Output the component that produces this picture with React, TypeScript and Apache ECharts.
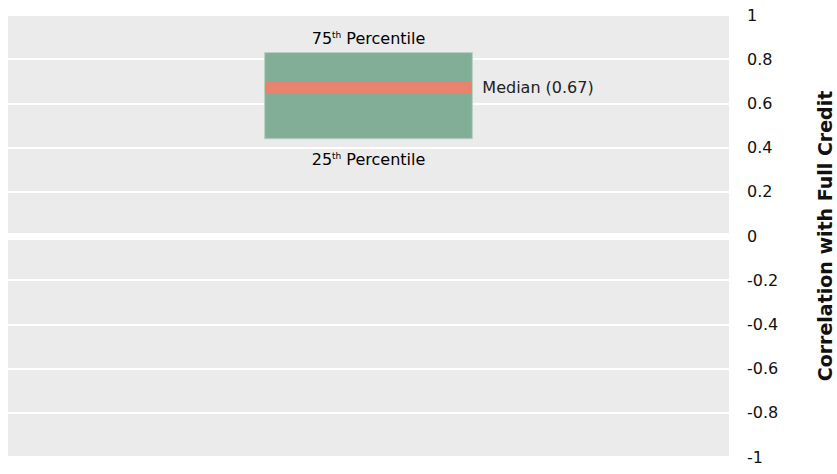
import React, { useEffect, useRef } from "react";
import * as echarts from "echarts";

const categories = ["Full Credit"];
const q1Values = [0.44];
const medianValues = [0.67];
const q3Values = [0.83];
const yTicks = { min: -1, max: 1, interval: 0.2 };
const axisTitle = "Correlation with Full Credit";
const medianLabel = "Median (0.67)";

const FONT = "DejaVu Sans";

export default function App() {
  const ref = useRef<HTMLDivElement>(null);
  useEffect(() => {
    if (!ref.current) return;
    const chart = echarts.init(ref.current, undefined, { renderer: "svg" });
    const data = categories.map((c, i) => [i, q1Values[i], medianValues[i], q3Values[i]]);
    const rich = {
      n: { fontSize: 16, fontFamily: FONT, color: "#222" },
      s: { fontSize: 9, fontFamily: FONT, color: "#222", verticalAlign: "top" },
    };
    chart.setOption({
      animation: false,
      backgroundColor: "#ffffff",
      grid: {
        left: 8,
        right: 108,
        top: 15,
        bottom: 17,
        show: true,
        backgroundColor: "#ebebeb",
        borderWidth: 0,
        containLabel: false,
        outerBoundsMode: "none",
      },
      xAxis: {
        type: "category",
        data: categories,
        show: false,
        boundaryGap: true,
      },
      yAxis: {
        type: "value",
        position: "right",
        min: yTicks.min,
        max: yTicks.max,
        interval: yTicks.interval,
        axisLine: { show: false },
        axisTick: { show: false },
        axisLabel: {
          color: "#111",
          fontSize: 16,
          fontFamily: FONT,
          margin: 18,
          align: "left",
          padding: [3, 0, 0, 0],
          formatter: (v: number) => String(Math.round(v * 10) / 10),
        },
        splitLine: { show: true, lineStyle: { color: "#ffffff", width: 2 } },
        name: axisTitle,
        nameLocation: "middle",
        nameRotate: 90,
        nameGap: 86,
        nameTextStyle: {
          color: "#111",
          fontSize: 19,
          fontWeight: "bold",
          fontFamily: FONT,
        },
      },
      series: [
        {
          type: "custom",
          data,
          encode: { x: 0, y: [1, 2, 3] },
          markLine: {
            silent: true,
            symbol: "none",
            label: { show: false },
            lineStyle: { color: "#ffffff", width: 7, type: "solid" },
            data: [{ yAxis: 0 }],
          },
          renderItem: (params: any, api: any) => {
            const x = api.value(0);
            const low = api.coord([x, api.value(1)]);
            const med = api.coord([x, api.value(2)]);
            const high = api.coord([x, api.value(3)]);
            const bandW = api.size([1, 0])[0];
            const w = bandW * 0.288;
            const cx = low[0];
            const left = cx - w / 2;
            return {
              type: "group",
              children: [
                {
                  type: "rect",
                  shape: { x: left, y: high[1], width: w, height: low[1] - high[1] },
                  style: { fill: "#82ad97", stroke: "#b9cfc2", lineWidth: 1 },
                },
                {
                  type: "rect",
                  shape: { x: left + 0.5, y: med[1] - 6, width: w - 1, height: 12 },
                  style: { fill: "#e8836f" },
                },
                {
                  type: "text",
                  x: cx,
                  y: high[1] - 14,
                  style: {
                    text: "{n|75}{s|th}{n| Percentile}",
                    rich,
                    align: "center",
                    verticalAlign: "middle",
                  },
                },
                {
                  type: "text",
                  x: cx,
                  y: low[1] + 21,
                  style: {
                    text: "{n|25}{s|th}{n| Percentile}",
                    rich,
                    align: "center",
                    verticalAlign: "middle",
                  },
                },
                {
                  type: "text",
                  x: left + w + 10,
                  y: med[1],
                  style: {
                    text: medianLabel,
                    fill: "#222",
                    fontSize: 16,
                    fontFamily: FONT,
                    align: "left",
                    verticalAlign: "middle",
                  },
                },
              ],
            };
          },
        },
      ],
    });
    return () => chart.dispose();
  }, []);
  return (
    <div
      ref={ref}
      style={{ position: "fixed", left: 0, top: 0, width: 837, height: 474 }}
    />
  );
}
